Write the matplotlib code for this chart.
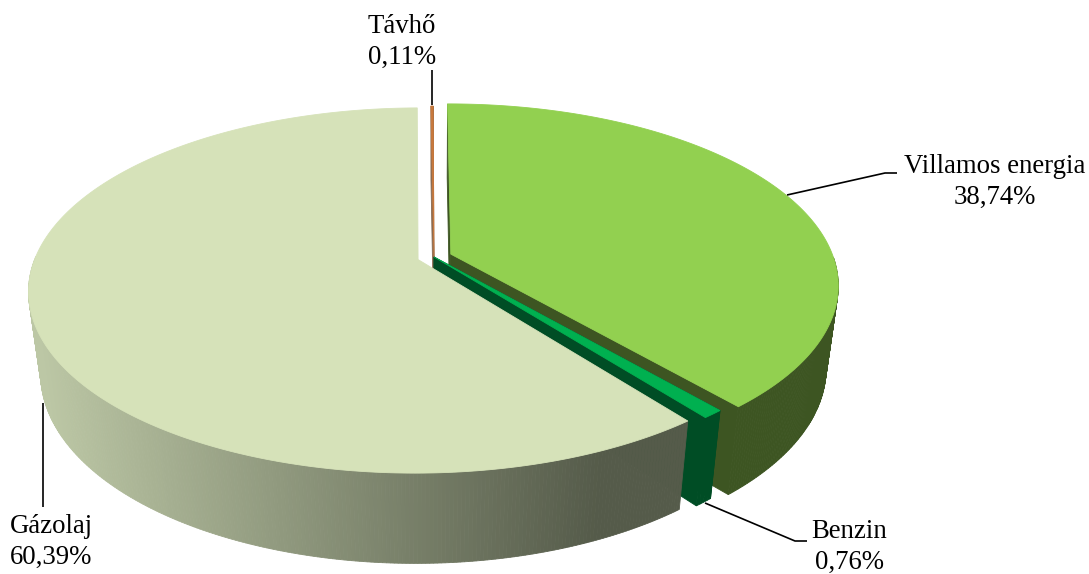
import numpy as np
import matplotlib
matplotlib.use('Agg')
import matplotlib.pyplot as plt

# pie data (clockwise from the top)
labels = ['Villamos energia', 'Benzin', 'Gázolaj', 'Távhő']
shares = [38.74, 0.76, 60.39, 0.11]
value_labels = ['38,74%', '0,76%', '60,39%', '0,11%']

top_colors = ['#92D050', '#00B050', '#D6E2B9', '#C8783C']
wall_colors = ['#3D5522', '#004D25', None, '#8A6A50']
explode = [0.047, 0.0, 0.044, 0.0]
draw_order = [3, 0, 1, 2]

# perspective of the disc, in pixels
CX, CY = 434, 257
RX, RY = 382.5, 176.5
TILT = 0.169
DEPTH = 84
SHRINK = 0.03
START = -0.15


def project(u, v, z=0.0):
    w = 1 + TILT * v + SHRINK * z
    return CX + RX * u / w, CY + (-RY * v + DEPTH * z) / w


def quad(ax, xs, ys, color):
    ax.fill(xs, ys, facecolor=color, edgecolor=color, linewidth=0.6)


def gradient_color(x):
    # gazolaj wall goes darker from left to right
    left = np.array([0xBC, 0xC7, 0xA5]) / 255
    right = np.array([0x55, 0x5B, 0x4A]) / 255
    t = np.clip((x - 40) / 560, 0, 1)
    return tuple(left + (right - left) * t)


def draw_slice(ax, a0, a1, off, top, wall):
    mid = (a0 + a1) / 2
    du, dv = off * np.sin(mid), off * np.cos(mid)
    n = max(int(np.degrees(a1 - a0) / 0.5), 2)
    ang = np.linspace(a0, a1, n)
    u = np.sin(ang) + du
    v = np.cos(ang) + dv

    # radial walls first, then the rim, the top face last
    if wall is not None:
        for i in (0, -1):
            xa, ya = project(du, dv)
            xb, yb = project(u[i], v[i])
            xc, yc = project(u[i], v[i], 1)
            xd, yd = project(du, dv, 1)
            quad(ax, [xa, xb, xc, xd], [ya, yb, yc, yd], wall)
    for i in np.argsort(-v[:-1]):
        # back of the rim can not be seen
        if v[i] > 0:
            continue
        x0, y0 = project(u[i], v[i])
        x1, y1 = project(u[i + 1], v[i + 1])
        x2, y2 = project(u[i + 1], v[i + 1], 1)
        x3, y3 = project(u[i], v[i], 1)
        c = wall if wall is not None else gradient_color((x0 + x1) / 2)
        quad(ax, [x0, x1, x2, x3], [y0, y1, y2, y3], c)
    xs, ys = project(np.r_[du, u], np.r_[dv, v])
    quad(ax, xs, ys, top)


fig = plt.figure(figsize=(10.89, 5.74), dpi=100)
ax = fig.add_axes([0, 0, 1, 1])
ax.set_xlim(0, 1089)
ax.set_ylim(574, 0)
ax.axis('off')

edges = START + np.r_[0, np.cumsum(shares)] / sum(shares) * 360
edges = np.radians(edges)
for i in draw_order:
    draw_slice(ax, edges[i], edges[i + 1], explode[i], top_colors[i], wall_colors[i])

# leader lines
leaders = [
    ([787, 885, 897], [195, 173, 173]),
    ([705, 795, 807], [503, 541, 541]),
    ([43, 43], [403, 507]),
    ([431.5, 431.5], [105, 70]),
]
for xs, ys in leaders:
    ax.plot(xs, ys, color='black', linewidth=1.2, solid_capstyle='butt')

label_pos = [(995, 182), (849, 547), (51, 542), (402, 42)]
for name, val, (x, y) in zip(labels, value_labels, label_pos):
    ax.text(x, y, name + '\n' + val, ha='center', va='center', fontsize=19.3,
            family='Liberation Serif', linespacing=1.28, color='black')

fig.savefig('out.png', dpi=100)
